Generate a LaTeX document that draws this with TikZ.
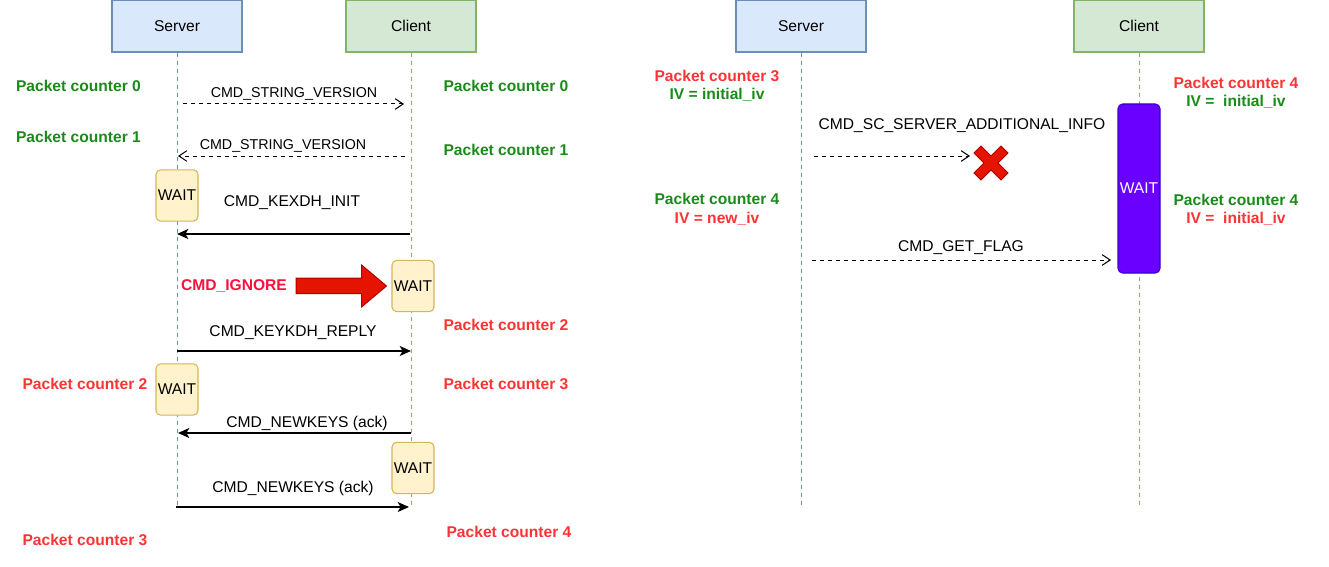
\documentclass[tikz,border=0pt]{standalone}
\usepackage{fontspec}
\setmainfont{Liberation Sans}
\usetikzlibrary{arrows.meta}
\definecolor{srvfill}{HTML}{DAE8FC}
\definecolor{srvline}{HTML}{6C8EBF}
\definecolor{clifill}{HTML}{D5E8D4}
\definecolor{cliline}{HTML}{82B366}
\definecolor{waitfill}{HTML}{FFF2CC}
\definecolor{waitline}{HTML}{D6B656}
\definecolor{pgreen}{HTML}{1A8A1A}
\definecolor{pred}{HTML}{FF3333}
\definecolor{ignred}{HTML}{FF103F}
\definecolor{bigred}{HTML}{E51400}
\definecolor{bigredline}{HTML}{B20000}
\definecolor{purp}{HTML}{6A00FF}
\definecolor{purpline}{HTML}{3700CC}
\tikzset{
  x=0.75pt, y=-0.75pt,
  txt/.style={inner sep=0pt, yshift=-1.1pt, font=\fontsize{11.7}{13.5}\selectfont},
  txtsm/.style={inner sep=0pt, yshift=-0.8pt, font=\fontsize{10.7}{12.5}\selectfont},
  pcg/.style={inner sep=0pt, yshift=-0.7pt, text=pgreen, align=center, font=\fontsize{11.7}{14.5}\selectfont\bfseries},
  pcr/.style={inner sep=0pt, yshift=-0.7pt, text=pred, align=center, font=\fontsize{11.7}{14.5}\selectfont\bfseries},
  srvbox/.style={draw=srvline, fill=srvfill, line width=1pt, minimum width=97.5pt, minimum height=39pt, inner sep=0pt, font=\fontsize{11.7}{13.5}\selectfont},
  clibox/.style={draw=cliline, fill=clifill, line width=1pt, minimum width=97.5pt, minimum height=39pt, inner sep=0pt, font=\fontsize{11.7}{13.5}\selectfont},
  waitbox/.style={draw=waitline, fill=waitfill, line width=0.8pt, rounded corners=3.5pt, minimum width=31.5pt, minimum height=38.5pt, inner sep=0pt, font=\fontsize{11.7}{13.5}\selectfont},
  srvlife/.style={draw=srvline, line width=0.75pt, dash pattern=on 3pt off 3pt},
  clilife/.style={draw=cliline, line width=0.75pt, dash pattern=on 3pt off 3pt},
  dmsg/.style={line width=0.75pt, dash pattern=on 3pt off 3pt, -{Straight Barb[length=6pt,width=8pt,line width=0.75pt]}},
  smsg/.style={line width=1pt, -{Stealth[length=8.5pt,width=7.5pt,inset=2.2pt]}},
}
\begin{document}
\begin{tikzpicture}
\useasboundingbox (0,0) rectangle (1329,567);
% ---------------- left diagram ----------------
\node[srvbox] (ls) at (177,26) {Server};
\node[clibox] (lc) at (411,26) {Client};
\coordinate (lsend) at (177,507);
\coordinate (lcend) at (411,507);
\draw[srvlife] (ls.south) -- (lsend);
\draw[clilife] (lc.south) -- (lcend);

\node[pcg] (pl0) at (78.5,85) {Packet counter 0};
\node[pcg] (pr0) at (506,85) {Packet counter 0};
\node[pcg] (pl1) at (78.5,136) {Packet counter 1};
\node[pcg] (pr1) at (506,149) {Packet counter 1};

\coordinate (a1s) at (183,104); \coordinate (a1e) at (404,104);
\draw[dmsg] (a1s) -- (a1e);
\node[txtsm] (t1) at (294,93) {CMD\_STRING\_VERSION};

\coordinate (a2s) at (405,156); \coordinate (a2e) at (178,156);
\draw[dmsg] (a2s) -- (a2e);
\node[txtsm] (t2) at (283,145) {CMD\_STRING\_VERSION};

\node[waitbox] (w1) at (177,195.5) {WAIT};
\node[txt] (t3) at (292,201) {CMD\_KEXDH\_INIT};
\coordinate (a3s) at (410,234); \coordinate (a3e) at (177,234);
\draw[smsg] (a3s) -- (a3e);

\node[waitbox] (w2) at (413,286) {WAIT};
\node[txt, text=ignred, font=\fontsize{11.7}{13.5}\selectfont\bfseries] (ign) at (234,285) {CMD\_IGNORE};
\draw[fill=bigred, draw=bigredline, line width=0.75pt] (296,278) -- (361.5,278) -- (361.5,265) -- (386.5,286) -- (361.5,307) -- (361.5,293.5) -- (296,293.5) -- cycle;

\node[pcr] (pr2) at (506,324) {Packet counter 2};
\node[txt] (t4) at (293,331) {CMD\_KEYKDH\_REPLY};
\coordinate (a4s) at (177,351); \coordinate (a4e) at (411,351);
\draw[smsg] (a4s) -- (a4e);

\node[waitbox] (w3) at (177,389.5) {WAIT};
\node[pcr] (pl2) at (85,383) {Packet counter 2};
\node[pcr] (pr3) at (506,383) {Packet counter 3};
\node[txt] (t5) at (307,422) {CMD\_NEWKEYS (ack)};
\coordinate (a5s) at (411,433); \coordinate (a5e) at (178,433);
\draw[smsg] (a5s) -- (a5e);

\node[waitbox] (w4) at (413,468) {WAIT};
\node[txt] (t6) at (293,487) {CMD\_NEWKEYS (ack)};
\coordinate (a6s) at (176,507); \coordinate (a6e) at (409,507);
\draw[smsg] (a6s) -- (a6e);

\node[pcr] (pl3) at (85,539) {Packet counter 3};
\node[pcr] (pr4) at (509,531) {Packet counter 4};

% ---------------- right diagram ----------------
\node[srvbox] (rs) at (801,26) {Server};
\node[clibox] (rc) at (1139,26) {Client};
\coordinate (rsend) at (801,507);
\coordinate (rcend) at (1139,507);
\draw[srvlife] (rs.south) -- (rsend);
\draw[clilife] (rc.south) -- (rcend);

\node[pcr] (rl1) at (717,75) {Packet counter 3};
\node[pcg] (rl1b) at (717,94) {IV = initial\_iv};
\node[pcr] (rr1) at (1236,82) {Packet counter 4};
\node[pcg] (rr1b) at (1236,101) {IV =\ \ initial\_iv};

\node[draw=purpline, fill=purp, rounded corners=3.5pt, line width=0.8pt, minimum width=31.5pt, minimum height=126.75pt, inner sep=0pt, text=white, font=\fontsize{11.7}{13.5}\selectfont] (w5) at (1139,188.5) {WAIT};

\node[txt] (t7) at (962,124) {CMD\_SC\_SERVER\_ADDITIONAL\_INFO};
\coordinate (b1s) at (814,156); \coordinate (b1e) at (970,156);
\draw[dmsg] (b1s) -- (b1e);
\draw[fill=bigred, draw=bigredline, line width=0.75pt, shift={(991,163)}]
  (-17,-10) -- (-10,-17) -- (0,-7) -- (10,-17) -- (17,-10) -- (7,0) -- (17,10) -- (10,17) -- (0,7) -- (-10,17) -- (-17,10) -- (-7,0) -- cycle;

\node[pcg] (rl2) at (717,198) {Packet counter 4};
\node[pcr] (rl2b) at (717,218) {IV = new\_iv};
\node[pcg] (rr2) at (1236,199) {Packet counter 4};
\node[pcr] (rr2b) at (1236,218) {IV =\ \ initial\_iv};

\node[txt] (t8) at (961,246) {CMD\_GET\_FLAG};
\coordinate (b2s) at (812,260); \coordinate (b2e) at (1111,260);
\draw[dmsg] (b2s) -- (b2e);
\end{tikzpicture}
\end{document}
